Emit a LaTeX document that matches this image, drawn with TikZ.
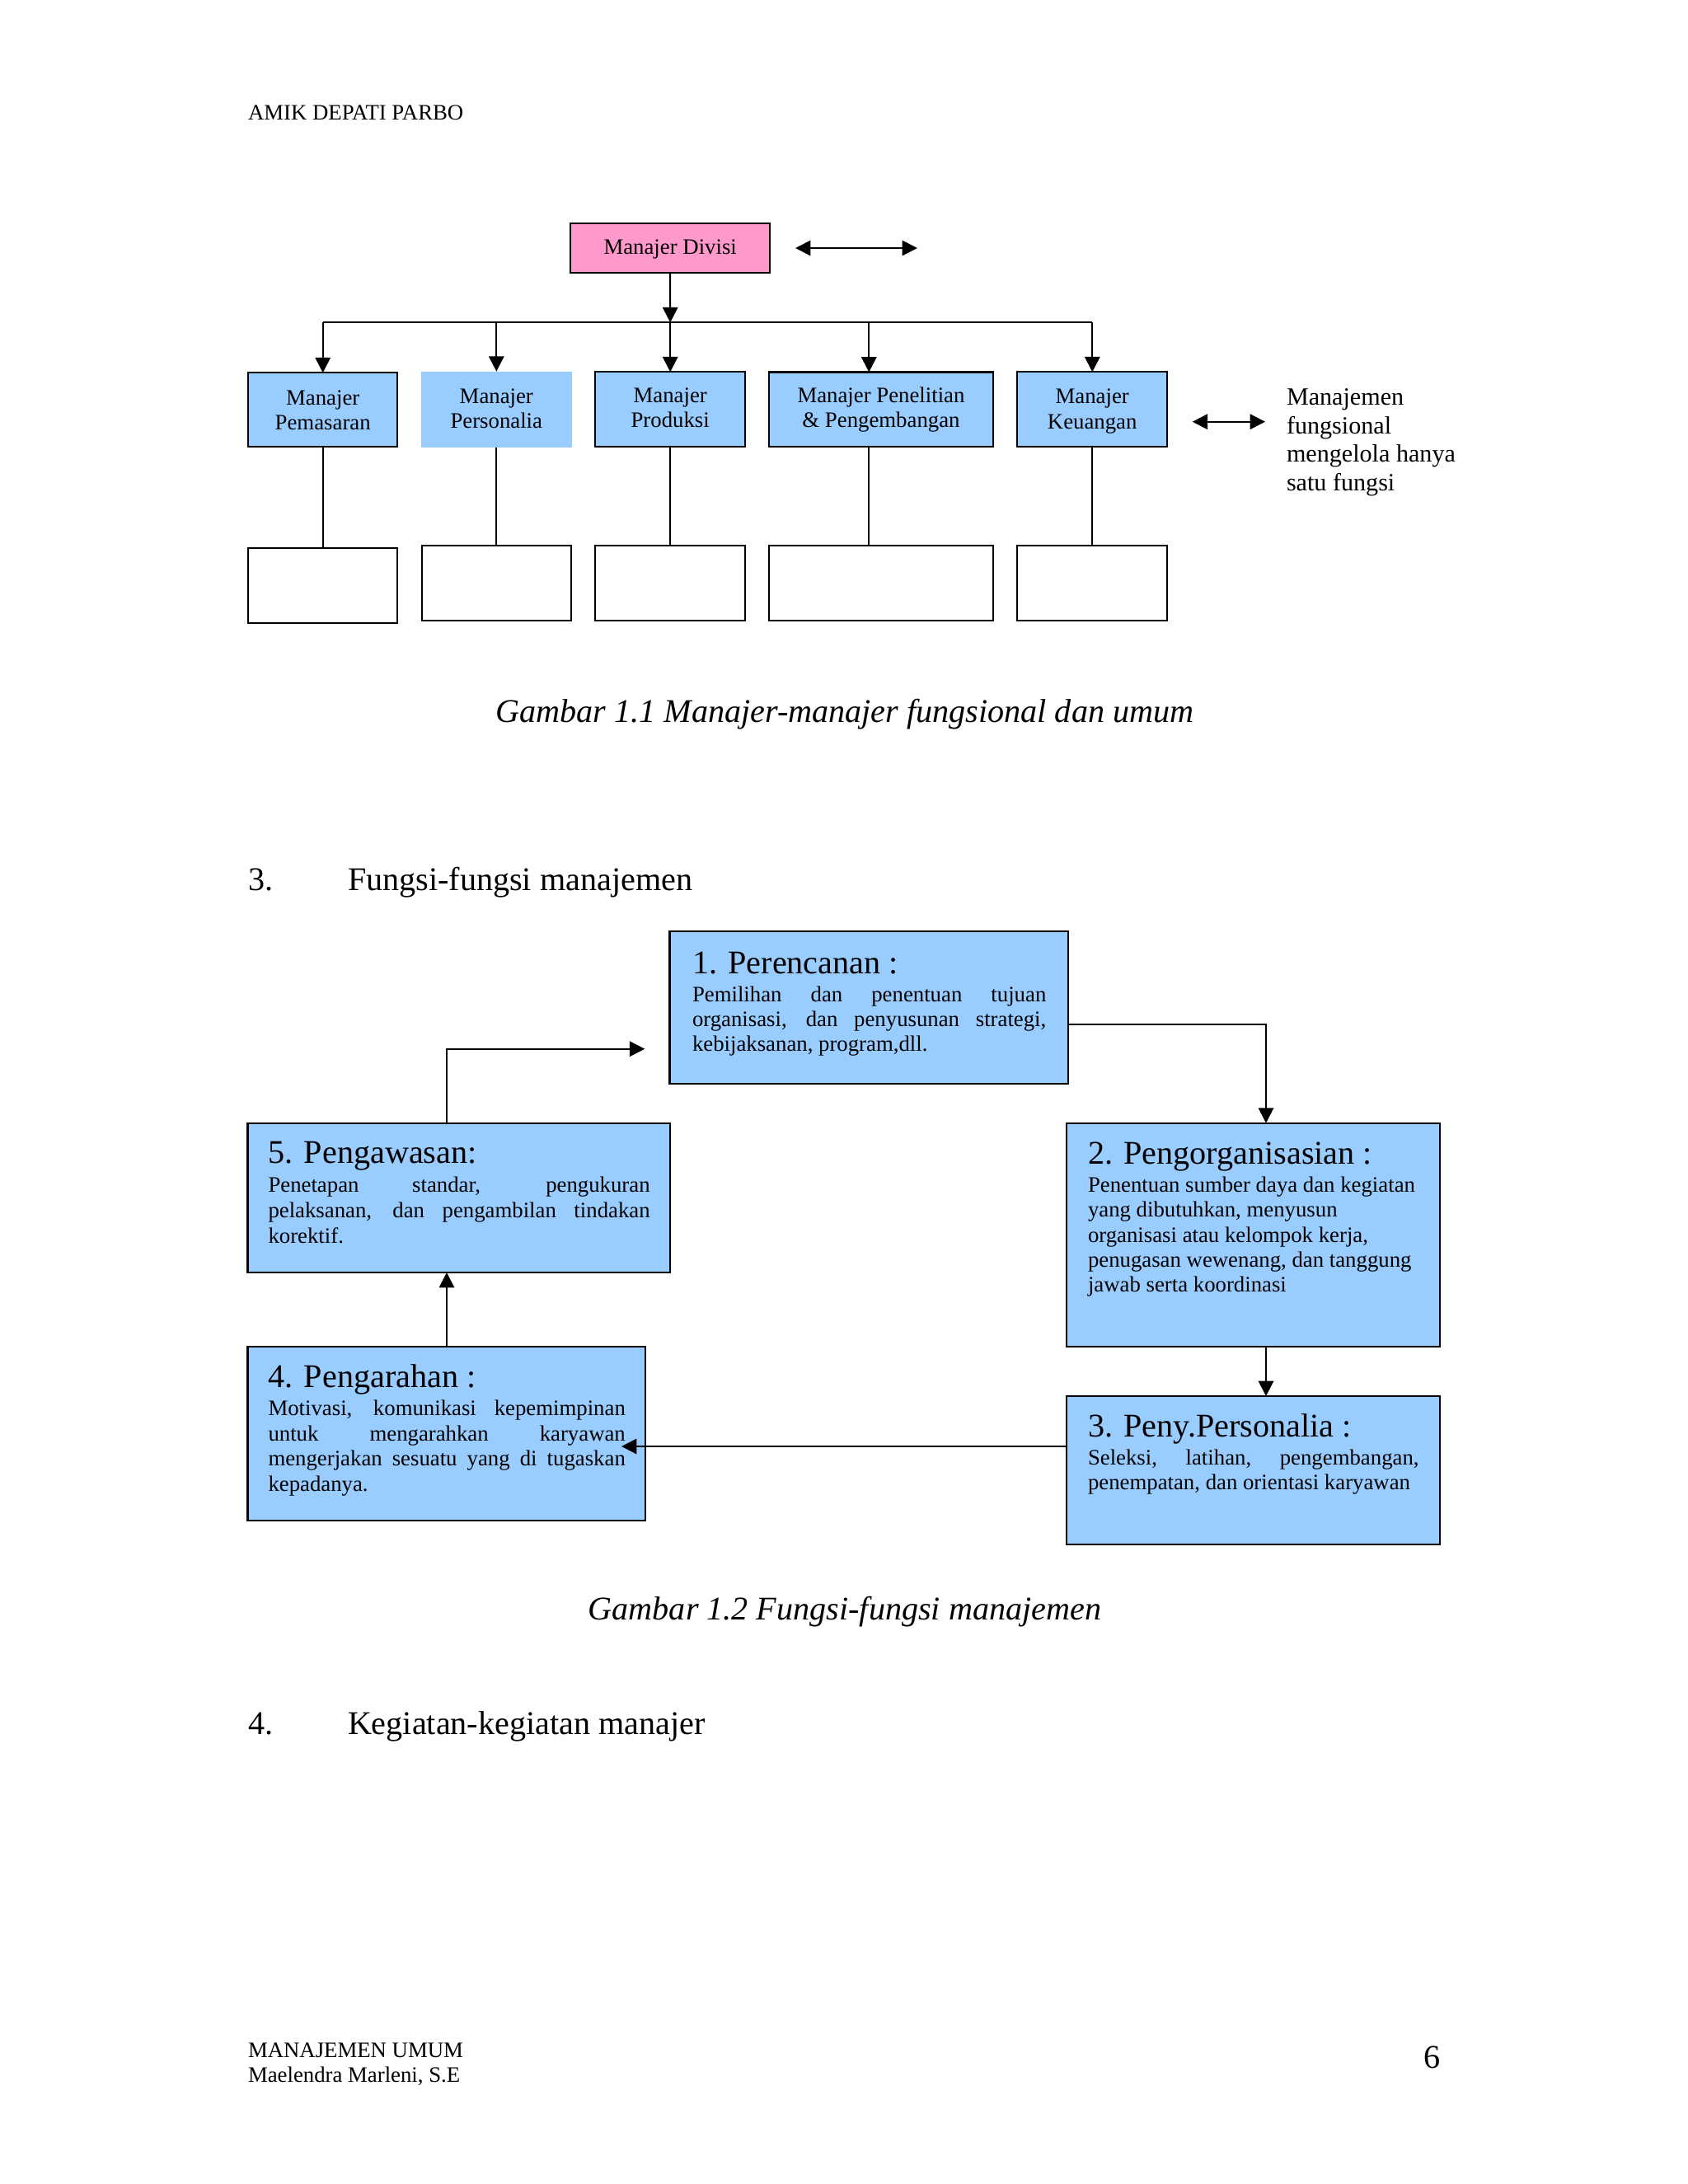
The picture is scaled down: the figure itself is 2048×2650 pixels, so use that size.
\documentclass[tikz,border=0pt]{standalone}
\usepackage{fontspec}
\setmainfont{Liberation Serif}
\usetikzlibrary{arrows.meta,fit}
\definecolor{boxblue}{HTML}{99CCFF}
\definecolor{boxpink}{HTML}{FF99CC}
\newcommand\MkBox[6]{%
  \coordinate (#6-a) at (#2,#3);
  \coordinate (#6-b) at (#4,#5);
  \node[#1, fit=(#6-a)(#6-b)] (#6) {};}
\newcommand\JL[2]{\makebox[#1][s]{#2}}
\begin{document}
\begin{tikzpicture}[x=0.29883pt,y=-0.29883pt,
  every node/.style={inner sep=0pt, outer sep=0pt},
  bluebox/.style={draw, fill=boxblue, line width=0.7pt},
  flatbox/.style={fill=boxblue},
  pinkbox/.style={draw, fill=boxpink, line width=0.7pt},
  emptybox/.style={draw, fill=white, line width=0.7pt},
  conn/.style={line width=0.6pt},
  arr/.style={line width=0.6pt, -{Triangle[length=5.5pt,width=5.5pt]}},
  darr/.style={line width=0.6pt, {Triangle[length=5.5pt,width=5.5pt]}-{Triangle[length=5.5pt,width=5.5pt]}},
  small/.style={font=\fontsize{8}{9}\selectfont},
  mid/.style={font=\fontsize{9}{10}\selectfont},
  big/.style={font=\fontsize{12}{14}\selectfont},
  captxt/.style={font=\fontsize{12}{14}\selectfont\itshape},
  lt/.style={anchor=base west},
  ct/.style={anchor=base},
]
\fill[white] (0,0) rectangle (2048,2650);
\useasboundingbox (0,0) rectangle (2048,2650);

% header
\node[small,lt] (hdr) at (301,145) {AMIK DEPATI PARBO};

% ---------- chart 1 ----------
\MkBox{pinkbox}{692.3}{270.7}{934}{331}{div}
\node[small,ct] (divt) at (813.2,308.3) {Manajer Divisi};

\MkBox{bluebox}{301}{452.3}{482.3}{542.3}{pm}
\MkBox{flatbox}{511}{450.7}{693.7}{542.7}{ps}
\MkBox{bluebox}{722.3}{451.3}{904}{542}{pr}
\MkBox{bluebox}{933.3}{451.5}{1205}{542}{pn}
\MkBox{bluebox}{1234.3}{451.3}{1416}{541.7}{ku}

\node[small,ct] (pm1) at (391.7,491) {Manajer};
\node[small,ct] (pm2) at (391.7,521) {Pemasaran};
\node[small,ct] (ps1) at (602.3,489) {Manajer};
\node[small,ct] (ps2) at (602.3,519) {Personalia};
\node[small,ct] (pr1) at (813.2,488.5) {Manajer};
\node[small,ct] (pr2) at (813.2,518.5) {Produksi};
\node[small,ct] (pn1) at (1069,488.5) {Manajer Penelitian};
\node[small,ct] (pn2) at (1069,518.5) {\& Pengembangan};
\node[small,ct] (ku1) at (1325.2,489.5) {Manajer};
\node[small,ct] (ku2) at (1325.2,520) {Keuangan};

\MkBox{emptybox}{301}{665}{482.3}{755.7}{pmL}
\MkBox{emptybox}{511.7}{662.3}{693.3}{752.7}{psL}
\MkBox{emptybox}{722.3}{662.3}{904}{752.7}{prL}
\MkBox{emptybox}{933.3}{662.3}{1205}{752.7}{pnL}
\MkBox{emptybox}{1234.3}{662.3}{1416}{752.7}{kuL}

\coordinate (t1) at (391.7,391.3);
\coordinate (t2) at (602.3,391.3);
\coordinate (t3) at (813.2,391.3);
\coordinate (t4) at (1054.3,391.3);
\coordinate (t5) at (1325.3,391.3);

\draw[arr] (div.south) -- (t3);
\draw[conn] (t1) -- (t5);
\draw[arr] (t1) -- (t1 |- pm.north);
\draw[arr] (t2) -- (t2 |- ps.north);
\draw[arr] (t3) -- (t3 |- pr.north);
\draw[arr] (t4) -- (t4 |- pn.north);
\draw[arr] (t5) -- (t5 |- ku.north);

\draw[conn] (t1 |- pm.south) -- (t1 |- pmL.north);
\draw[conn] (t2 |- ps.south) -- (t2 |- psL.north);
\draw[conn] (t3 |- pr.south) -- (t3 |- prL.north);
\draw[conn] (t4 |- pn.south) -- (t4 |- pnL.north);
\draw[conn] (t5 |- ku.south) -- (t5 |- kuL.north);

\coordinate (da1) at (965,301);
\coordinate (da2) at (1113,301);
\draw[darr] (da1) -- (da2);
\coordinate (db1) at (1446.7,511.7);
\coordinate (db2) at (1535,511.7);
\draw[darr] (db1) -- (db2);

\node[mid,lt] (r1) at (1561,491.7) {Manajemen};
\node[mid,lt] (r2) at (1561,526) {fungsional};
\node[mid,lt] (r3) at (1561,560.3) {mengelola hanya};
\node[mid,lt] (r4) at (1561,595) {satu fungsi};

\node[captxt,ct] (cap1) at (1025,876) {Gambar 1.1 Manajer-manajer fungsional dan umum};

% ---------- section 3 ----------
\node[big,lt] (s3n) at (301,1080) {3.};
\node[big,lt] (s3t) at (422,1080) {Fungsi-fungsi manajemen};

\MkBox{bluebox}{812.5}{1130}{1296}{1315}{b1}
\MkBox{bluebox}{1294.3}{1362.7}{1746.7}{1634}{b2}
\MkBox{bluebox}{1294.3}{1694}{1746.7}{1874}{b3}
\MkBox{bluebox}{300.5}{1634}{783}{1845}{b4}
\MkBox{bluebox}{300.5}{1363.3}{813.3}{1544}{b5}

% box 1
\node[big,lt] (b1t) at (840,1181) {1. Perencanan :};
\node[small,lt] (b1l1) at (840,1215) {\JL{128.3pt}{Pemilihan dan penentuan tujuan}};
\node[small,lt] (b1l2) at (840,1245.5) {\JL{128.3pt}{organisasi, dan penyusunan strategi,}};
\node[small,lt] (b1l3) at (840,1275.8) {kebijaksanan, program,dll.};

% box 2
\node[big,lt] (b2t) at (1320,1412.7) {2. Pengorganisasian :};
\node[small,lt] (b2l1) at (1320,1446.7) {Penentuan sumber daya dan kegiatan};
\node[small,lt] (b2l2) at (1320,1476.9) {yang dibutuhkan, menyusun};
\node[small,lt] (b2l3) at (1320,1507.2) {organisasi atau kelompok kerja,};
\node[small,lt] (b2l4) at (1320,1537.5) {penugasan wewenang, dan tanggung};
\node[small,lt] (b2l5) at (1320,1567.8) {jawab serta koordinasi};

% box 3
\node[big,lt] (b3t) at (1320,1743.3) {3. Peny.Personalia :};
\node[small,lt] (b3l1) at (1320,1777) {\JL{120pt}{Seleksi, latihan, pengembangan,}};
\node[small,lt] (b3l2) at (1320,1807.5) {penempatan, dan orientasi karyawan};

% box 4
\node[big,lt] (b4t) at (325.5,1683.3) {4. Pengarahan :};
\node[small,lt] (b4l1) at (325.5,1717.7) {\JL{129.5pt}{Motivasi, komunikasi kepemimpinan}};
\node[small,lt] (b4l2) at (325.5,1748) {\JL{129.5pt}{untuk mengarahkan karyawan}};
\node[small,lt] (b4l3) at (325.5,1778.6) {\JL{129.5pt}{mengerjakan sesuatu yang di tugaskan}};
\node[small,lt] (b4l4) at (325.5,1809.2) {kepadanya.};

% box 5
\node[big,lt] (b5t) at (325.5,1411.7) {5. Pengawasan:};
\node[small,lt] (b5l1) at (325.5,1446.7) {\JL{138.4pt}{Penetapan standar, pengukuran}};
\node[small,lt] (b5l2) at (325.5,1477.4) {\JL{138.4pt}{pelaksanan, dan pengambilan tindakan}};
\node[small,lt] (b5l3) at (325.5,1508) {korektif.};

% connectors
\coordinate (c12) at (1536,1243.3);
\draw[arr] (b1.east |- c12) -- (c12) -- (c12 |- b2.north);
\draw[arr] (c12 |- b2.south) -- (c12 |- b3.north);
\coordinate (c34) at (754,1755);
\draw[arr] (b3.west |- c34) -- (c34);
\coordinate (c45) at (542,1272.7);
\draw[arr] (c45 |- b4.north) -- (c45 |- b5.south);
\coordinate (c51) at (782.3,1272.7);
\draw[arr] (c45 |- b5.north) -- (c45) -- (c51);

\node[captxt,ct] (cap2) at (1025,1965) {Gambar 1.2 Fungsi-fungsi manajemen};

% ---------- section 4 ----------
\node[big,lt] (s4n) at (301,2104) {4.};
\node[big,lt] (s4t) at (422,2104) {Kegiatan-kegiatan manajer};

% footer
\node[small,lt] (f1) at (301,2496) {MANAJEMEN UMUM};
\node[small,lt] (f2) at (301,2526) {Maelendra Marleni, S.E};
\node[big,anchor=base east] (pg) at (1748,2509) {6};
\end{tikzpicture}
\end{document}
